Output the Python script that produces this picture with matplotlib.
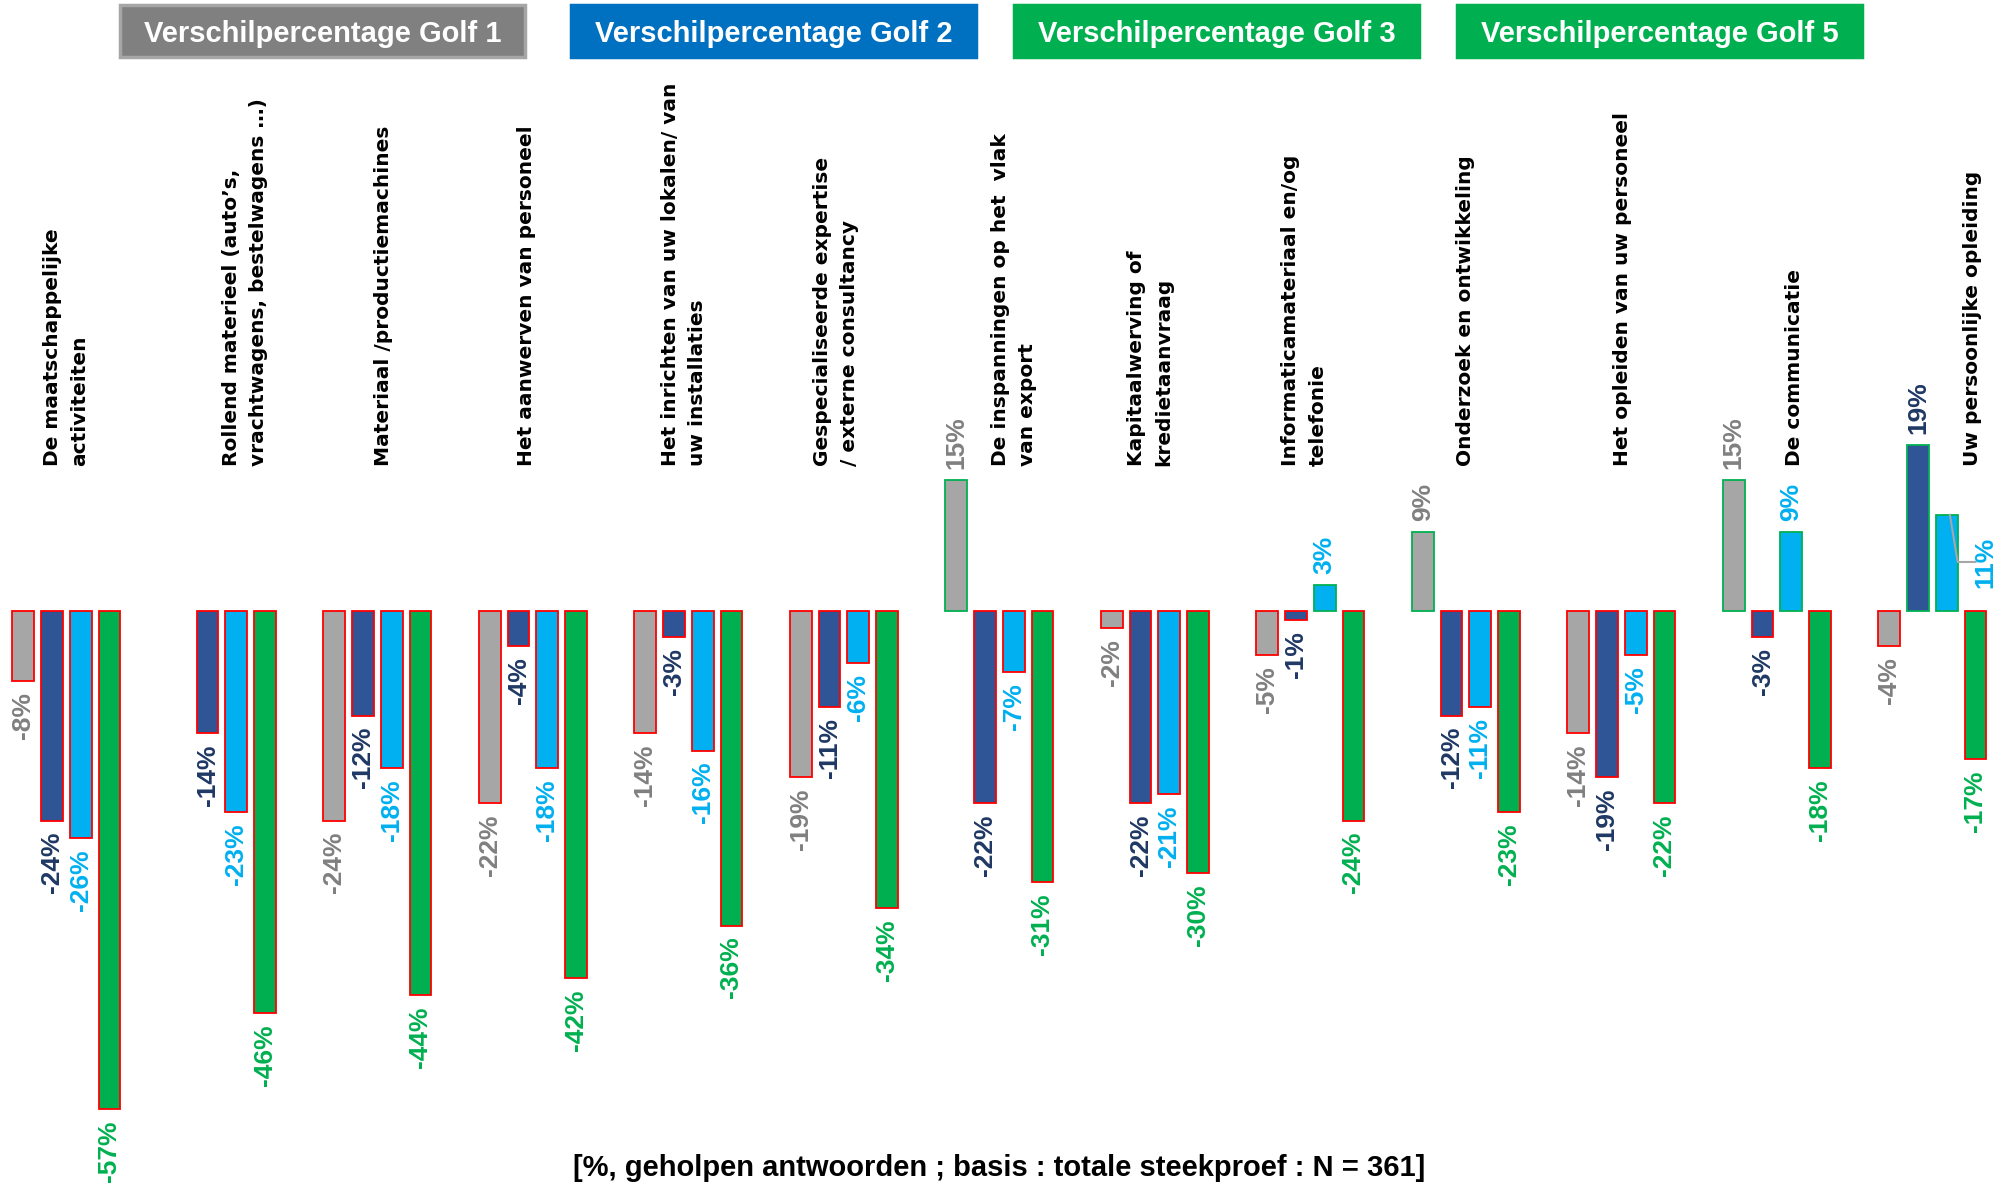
import numpy as np
import matplotlib
matplotlib.use("Agg")
import matplotlib.pyplot as plt
from matplotlib.patches import Rectangle
import matplotlib.transforms as mtrans

# ---------------- data ----------------
categories = [
    "De maatschappelijke\nactiviteiten",
    "Rollend materieel (auto’s,\nvrachtwagens, bestelwagens …)",
    "Materiaal /productiemachines",
    "Het aanwerven van personeel",
    "Het inrichten van uw lokalen/ van\nuw installaties",
    "Gespecialiseerde expertise\n/ externe consultancy",
    "De inspanningen op het  vlak\nvan export",
    "Kapitaalwerving of\nkredietaanvraag",
    "Informaticamateriaal en/og\ntelefonie",
    "Onderzoek en ontwikkeling",
    "Het opleiden van uw personeel",
    "De communicatie",
    "Uw persoonlijke opleiding",
]
series_names = ["Verschilpercentage Golf 1", "Verschilpercentage Golf 2",
                "Verschilpercentage Golf 3", "Verschilpercentage Golf 5"]
golf1 = [-8, None, -24, -22, -14, -19, 15, -2, -5, 9, -14, 15, -4]
golf2 = [-24, -14, -12, -4, -3, -11, -22, -22, -1, -12, -19, -3, 19]
golf3 = [-26, -23, -18, -18, -16, -6, -7, -21, 3, -11, -5, 9, 11]
golf5 = [-57, -46, -44, -42, -36, -34, -31, -30, -24, -23, -22, -18, -17]
footnote = "[%, geholpen antwoorden ; basis : totale steekproef : N = 361]"

# ---------------- style ----------------
bar_colors = ["#A6A6A6", "#2F5597", "#00B0F0", "#00B050"]
label_colors = ["#808080", "#1F3864", "#00B0F0", "#00B050"]
header_colors = ["#808080", "#0070C0", "#00B050", "#00B050"]
header_edges = ["#A6A6A6", "#0070C0", "#00B050", "#00B050"]
neg_edge = "#FF0000"
pos_edge = "#00B050"

W, H = 2003, 1186
fig = plt.figure(figsize=(W / 100, H / 100), dpi=100)
ax = fig.add_axes([0, 0, 1, 1])
ax.axis("off")
ax.set_xlim(-0.427, 12.454)
ax.set_ylim(-65.8, 69.9)

x = np.arange(len(categories))
bw = 0.14
step = 0.1846
offsets = (np.arange(4) - 1.5) * step
all_series = [golf1, golf2, golf3, golf5]

val_font = dict(family=["Liberation Sans", "DejaVu Sans"], fontweight="bold", fontsize=19)

for s, vals in enumerate(all_series):
    for i, v in enumerate(vals):
        if v is None:
            continue
        xc = x[i] + offsets[s]
        ec = neg_edge if v < 0 else pos_edge
        ax.bar(xc, v, width=bw, color=bar_colors[s], edgecolor=ec, linewidth=1.3, zorder=2)
        txt = f"{v}%"
        if s == 2 and i == 12:
            # label to the right of the bar with a leader line
            tx = xc + 0.25
            ty = v - 5.4
            ax.plot([xc + 0.02, xc + 0.07, xc + 0.185], [v, ty, ty], color="#A6A6A6", lw=1.5, zorder=3)
            ax.text(tx, ty, txt, rotation=90, ha="center", va="center", color=label_colors[s], **val_font)
            continue
        if v < 0:
            ax.annotate(txt, (xc, v), xytext=(0, -8), textcoords="offset points", rotation=90,
                        ha="center", va="top", color=label_colors[s], **val_font)
        else:
            ax.annotate(txt, (xc, v), xytext=(0, 8), textcoords="offset points", rotation=90,
                        ha="center", va="bottom", color=label_colors[s], **val_font)

# category labels
cat_shift = [0.0, 0.15, 0.037, -0.04, -0.03, -0.05, 0.095, -0.03, -0.04, 0.0, 0.01, 0.115, 0.26]
trans = mtrans.blended_transform_factory(ax.transData, ax.transAxes)
for i, lab in enumerate(categories):
    ax.text(x[i] + cat_shift[i], 1 - 466 / H, lab, transform=trans, rotation=90,
            ha="center", va="bottom", multialignment="left", fontsize=14.5,
            fontweight="bold", family=["DejaVu Sans"], color="black", linespacing=1.55)

# header boxes
box_left = [120, 571, 1014, 1457]
for k in range(4):
    r = Rectangle((box_left[k] / W, 1 - 57 / H), 405 / W, 52 / H, transform=fig.transFigure,
                  facecolor=header_colors[k], edgecolor=header_edges[k], linewidth=2.5, zorder=5)
    fig.add_artist(r)
    fig.text((box_left[k] + 202.5) / W, 1 - 34 / H, series_names[k], ha="center", va="center",
             color="white", fontsize=21, fontweight="bold",
             family=["Liberation Sans", "DejaVu Sans"], zorder=6)

fig.text(0.4988, 1 - 1168 / H, footnote, ha="center", va="center", fontsize=21,
         fontweight="bold", family=["Liberation Sans", "DejaVu Sans"], color="black")

fig.savefig("out.png", dpi=100, facecolor="white")
